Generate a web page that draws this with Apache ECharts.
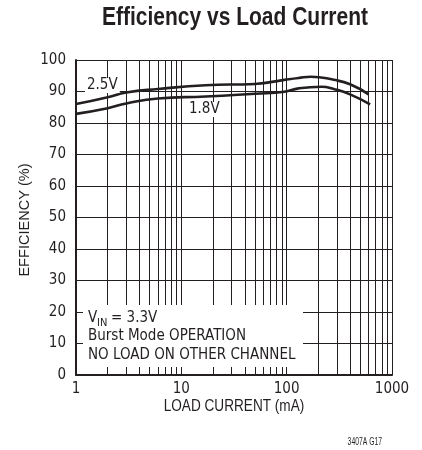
<!DOCTYPE html>
<html lang="en">
<head>
<meta charset="UTF-8">
<title>Efficiency vs Load Current</title>
<script src="https://cdn.jsdelivr.net/npm/echarts@6/dist/echarts.min.js"></script>
<style>
  html, body { margin: 0; padding: 0; background: #fff; }
  #main { width: 422px; height: 450px; }
</style>
</head>
<body>
<div id="main"></div>
<script>
// data
const current25 = [1, 2, 3, 6, 17, 50, 95, 130, 170, 280, 400, 600];
const eff25 = [86.0, 88.2, 89.7, 90.8, 92.0, 92.4, 93.7, 94.3, 94.7, 93.7, 92.3, 89.1];
const current18 = [1, 2, 3, 6, 17, 50, 95, 130, 215, 280, 400, 620];
const eff18 = [82.9, 84.7, 86.2, 87.8, 88.4, 89.3, 89.9, 91.0, 91.5, 90.8, 89.1, 85.9];
const minorCurrents = [2, 3, 4, 5, 6, 7, 8, 9, 20, 30, 40, 50, 60, 70, 80, 90, 200, 300, 400, 500, 600, 700, 800, 900];

const ink = '#231f20';
const font = "'DejaVu Sans Condensed', sans-serif";
const wideFont = "'Liberation Sans', Arial, sans-serif";

const chart = echarts.init(document.getElementById('main'));

const zip = (xs, ys) => xs.map((x, i) => [x, ys[i]]);

const option = {
    animation: false,
    grid: { left: 76, right: 30, top: 60, bottom: 75 },
    xAxis: {
        type: 'log',
        logBase: 10,
        min: 1,
        max: 1000,
        axisLine: { lineStyle: { color: ink, width: 2 } },
        axisTick: { show: false },
        axisLabel: { fontFamily: font, fontSize: 15, color: ink, margin: 7, formatter: v => String(v) },
        splitLine: { show: true, lineStyle: { color: ink, width: 1 } }
    },
    yAxis: {
        type: 'value',
        min: 0,
        max: 100,
        interval: 10,
        axisLine: { show: true, lineStyle: { color: ink, width: 2 } },
        axisTick: { show: false },
        axisLabel: { fontFamily: font, fontSize: 15, color: ink, margin: 10 },
        splitLine: { show: true, lineStyle: { color: ink, width: 1 } }
    },
    series: [
        {
            type: 'line',
            data: [],
            silent: true,
            z: 1,
            markLine: {
                silent: true,
                symbol: 'none',
                label: { show: false },
                lineStyle: { color: ink, width: 1, type: 'solid' },
                data: minorCurrents.map(c => ({ xAxis: c }))
            }
        },
        {
            name: '2.5V',
            type: 'line',
            smooth: true,
            showSymbol: false,
            z: 5,
            lineStyle: { color: ink, width: 2.6 },
            data: zip(current25, eff25)
        },
        {
            name: '1.8V',
            type: 'line',
            smooth: true,
            showSymbol: false,
            z: 5,
            lineStyle: { color: ink, width: 2.6 },
            data: zip(current18, eff18)
        }
    ],
    graphic: [
        {
            type: 'text', x: 235, y: 18, scaleX: 0.84,
            style: {
                text: 'Efficiency vs Load Current', fontFamily: wideFont, fontWeight: 'bold',
                fontSize: 25, fill: ink, align: 'center', verticalAlign: 'middle'
            }
        },
        {
            type: 'text', x: 234, y: 407, scaleX: 0.85,
            style: {
                text: 'LOAD CURRENT (mA)', fontFamily: wideFont, fontSize: 16, fill: ink,
                align: 'center', verticalAlign: 'middle'
            }
        },
        {
            type: 'text', x: 25, y: 220, rotation: Math.PI / 2, scaleX: 0.97,
            style: {
                text: 'EFFICIENCY (%)', fontFamily: wideFont, fontSize: 15, fill: ink,
                align: 'center', verticalAlign: 'middle'
            }
        },
        {
            type: 'text', left: 85, top: 78, z: 10,
            style: { text: '2.5V', fontFamily: font, fontSize: 15, fill: ink, backgroundColor: '#fff', padding: [0, 2] }
        },
        {
            type: 'text', left: 188, top: 102, z: 10,
            style: { text: '1.8V', fontFamily: font, fontSize: 15, fill: ink, backgroundColor: '#fff', padding: [0, 1] }
        },
        {
            type: 'rect', z: 10,
            shape: { x: 83, y: 305, width: 220, height: 62 },
            style: { fill: '#fff' }
        },
        {
            type: 'text', left: 88, top: 311, z: 11,
            style: { text: 'V', fontFamily: font, fontSize: 15, fill: ink }
        },
        {
            type: 'text', left: 97, top: 318, z: 11,
            style: { text: 'IN', fontFamily: font, fontSize: 11, fill: ink }
        },
        {
            type: 'text', left: 111, top: 311, z: 11,
            style: { text: '= 3.3V', fontFamily: font, fontSize: 15, fill: ink }
        },
        {
            type: 'text', left: 88, top: 329, z: 11,
            style: { text: 'Burst Mode OPERATION', fontFamily: font, fontSize: 15, fill: ink }
        },
        {
            type: 'text', left: 88, top: 348, z: 11,
            style: { text: 'NO LOAD ON OTHER CHANNEL', fontFamily: font, fontSize: 15, fill: ink }
        },
        {
            type: 'text', x: 382, y: 442, scaleX: 0.68,
            style: {
                text: '3407A G17', fontFamily: wideFont, fontSize: 10, fill: ink,
                align: 'right', verticalAlign: 'middle'
            }
        }
    ]
};

chart.setOption(option);
</script>
</body>
</html>
